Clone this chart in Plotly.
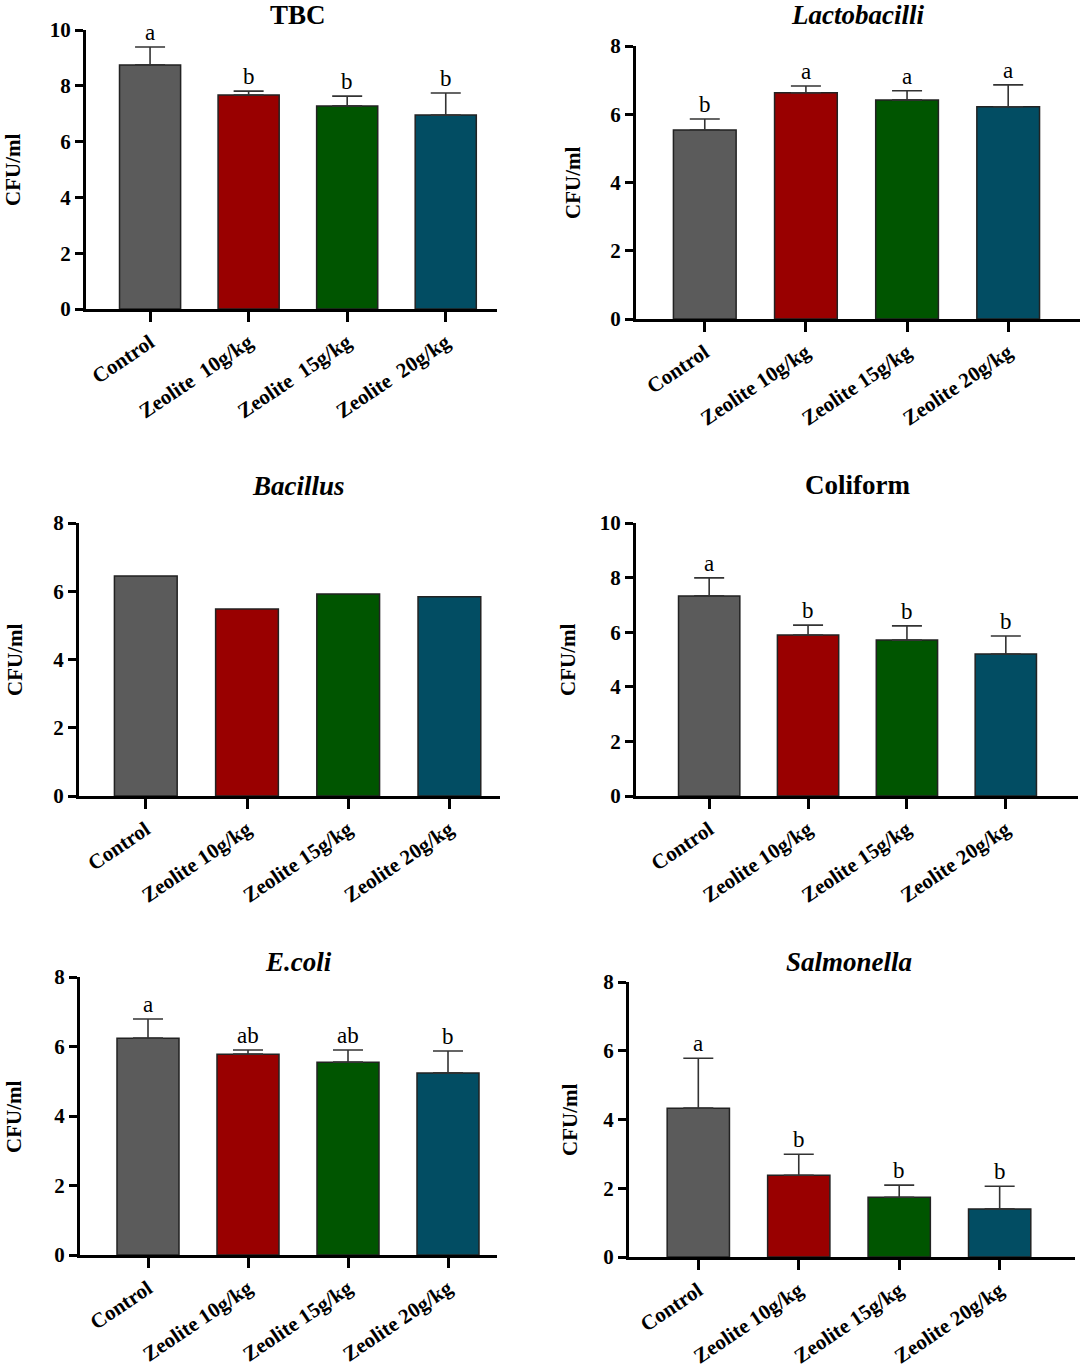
import plotly.graph_objects as go

W, H = 1080, 1371

groups = ["Control", "Zeolite 10g/kg", "Zeolite 15g/kg", "Zeolite 20g/kg"]
tbc_labels = ["Control", "Zeolite\u00a0\u00a010g/kg", "Zeolite\u00a0\u00a015g/kg", "Zeolite\u00a0\u00a020g/kg"]

tbc = [8.75, 7.67, 7.28, 6.95]
tbc_err = [0.64, 0.14, 0.35, 0.79]
tbc_sig = ["a", "b", "b", "b"]

lacto = [5.54, 6.63, 6.42, 6.22]
lacto_err = [0.32, 0.20, 0.27, 0.64]
lacto_sig = ["b", "a", "a", "a"]

bacillus = [6.45, 5.48, 5.92, 5.84]

coliform = [7.33, 5.90, 5.71, 5.20]
coliform_err = [0.66, 0.36, 0.52, 0.66]
coliform_sig = ["a", "b", "b", "b"]

ecoli = [6.24, 5.78, 5.55, 5.24]
ecoli_err = [0.55, 0.12, 0.35, 0.63]
ecoli_sig = ["a", "ab", "ab", "b"]

salmonella = [4.33, 2.38, 1.74, 1.40]
salmonella_err = [1.45, 0.61, 0.35, 0.66]
salmonella_sig = ["a", "b", "b", "b"]

colors = ["#5b5b5b", "#990000", "#005500", "#024d63"]
FONT = "Liberation Serif"

# panel placement in page pixels (x0, x1), (ytop, ybottom), x range, title / y-label centres
panels = [
    dict(vals=tbc, err=tbc_err, sig=tbc_sig, labels=tbc_labels, title="<b>TBC</b>",
         px=(86, 497), py=(30, 309), ymax=10, xr=(-0.65, 3.52), tpos=(298, 15), ypos=(13, 170)),
    dict(vals=lacto, err=lacto_err, sig=lacto_sig, labels=groups, title="<b><i>Lactobacilli</i></b>",
         px=(636, 1080), py=(46, 319), ymax=8, xr=(-0.68, 3.71), tpos=(857, 15), ypos=(573, 183)),
    dict(vals=bacillus, err=None, sig=None, labels=groups, title="<b><i>Bacillus</i></b>",
         px=(79, 500), py=(523, 796), ymax=8, xr=(-0.66, 3.5), tpos=(298, 486), ypos=(15, 660)),
    dict(vals=coliform, err=coliform_err, sig=coliform_sig, labels=groups, title="<b>Coliform</b>",
         px=(636, 1078), py=(523, 796), ymax=10, xr=(-0.74, 3.73), tpos=(857, 485), ypos=(568, 660)),
    dict(vals=ecoli, err=ecoli_err, sig=ecoli_sig, labels=groups, title="<b><i>E.coli</i></b>",
         px=(80, 497), py=(977, 1255), ymax=8, xr=(-0.68, 3.49), tpos=(298, 962), ypos=(14, 1117)),
    dict(vals=salmonella, err=salmonella_err, sig=salmonella_sig, labels=groups, title="<b><i>Salmonella</i></b>",
         px=(629, 1075), py=(982, 1257), ymax=8, xr=(-0.69, 3.75), tpos=(849, 962), ypos=(570, 1120)),
]


def fx(px):
    return px / W


def fy(py):
    return 1 - py / H


fig = go.Figure()
annotations = []
layout = {}

for i, p in enumerate(panels, start=1):
    xa = "x" if i == 1 else f"x{i}"
    ya = "y" if i == 1 else f"y{i}"
    xkey = "xaxis" if i == 1 else f"xaxis{i}"
    ykey = "yaxis" if i == 1 else f"yaxis{i}"

    bar = dict(x=groups, y=p["vals"], marker=dict(color=colors, line=dict(color="#222222", width=1.5)),
               width=0.62, xaxis=xa, yaxis=ya, showlegend=False)
    if p["err"] is not None:
        bar["error_y"] = dict(type="data", symmetric=False, array=p["err"], arrayminus=[0] * 4,
                              color="#333333", thickness=1.6, width=15)
    fig.add_trace(go.Bar(**bar))

    layout[xkey] = dict(domain=[fx(p["px"][0]), min(fx(p["px"][1]), 1)], anchor=ya, type="category",
                        range=list(p["xr"]), tickmode="array", tickvals=groups, ticktext=p["labels"],
                        tickangle=-34, ticks="outside", ticklen=10, tickwidth=3, tickcolor="black",
                        showline=True, linecolor="black", linewidth=3, showgrid=False, automargin=False,
                        tickfont=dict(family=FONT, size=21, color="black", weight="bold"))
    layout[ykey] = dict(domain=[fy(p["py"][1]), fy(p["py"][0])], anchor=xa,
                        range=[0, p["ymax"]], dtick=2, ticks="outside", ticklen=8, tickwidth=3,
                        tickcolor="black", showline=True, linecolor="black", linewidth=3,
                        showgrid=False, zeroline=False, automargin=False,
                        tickfont=dict(family=FONT, size=21, color="black", weight="bold"))

    annotations.append(dict(text=p["title"], x=fx(p["tpos"][0]), y=fy(p["tpos"][1]),
                            xref="paper", yref="paper", showarrow=False,
                            xanchor="center", yanchor="middle",
                            font=dict(family=FONT, size=27, color="black")))
    annotations.append(dict(text="<b>CFU/ml</b>", x=fx(p["ypos"][0]), y=fy(p["ypos"][1]),
                            xref="paper", yref="paper", showarrow=False, textangle=-90,
                            xanchor="center", yanchor="middle",
                            font=dict(family=FONT, size=21, color="black")))
    if p["sig"] is not None:
        for g, v, e, s in zip(groups, p["vals"], p["err"], p["sig"]):
            annotations.append(dict(text=s, x=g, y=v + e, xref=xa, yref=ya, showarrow=False,
                                    yanchor="bottom", yshift=0,
                                    font=dict(family=FONT, size=23, color="black")))

fig.update_layout(width=W, height=H, margin=dict(l=0, r=0, t=0, b=0),
                  plot_bgcolor="white", paper_bgcolor="white",
                  annotations=annotations, bargap=0.3, **layout)

# drop the default page margin so the figure fills the window
fig.write_html("out.html", config={"displayModeBar": False},
               post_script="document.body.style.margin='0';document.body.style.overflow='hidden';")
